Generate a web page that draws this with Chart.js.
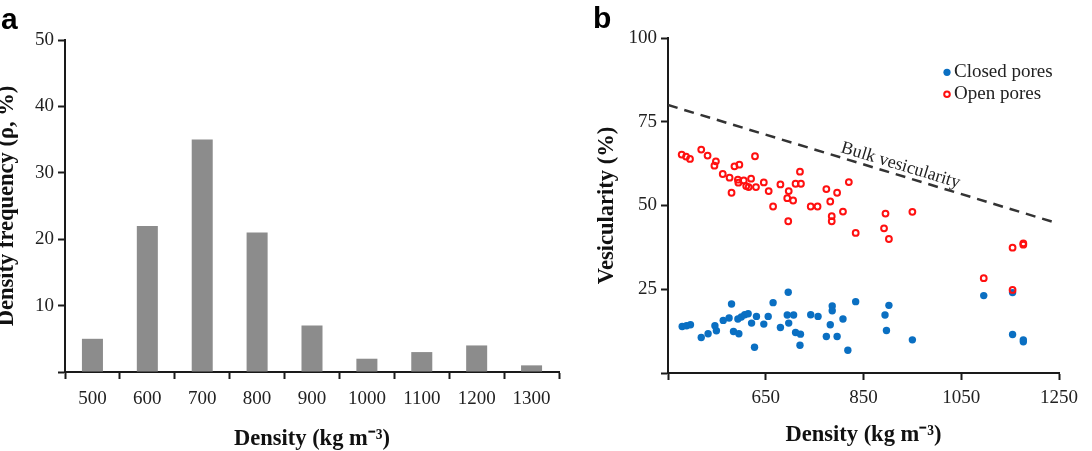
<!DOCTYPE html>
<html><head><meta charset="utf-8">
<script src="https://cdn.jsdelivr.net/npm/chart.js@4.4.1/dist/chart.umd.min.js"></script>
<style>
html,body{margin:0;padding:0;background:#fff;width:1092px;height:451px;overflow:hidden;position:relative}
.wrap{position:absolute;top:0}
.lbl{position:absolute;font-family:"Liberation Sans",Arial,sans-serif;font-weight:bold;font-size:30px;line-height:1;color:#000}
</style></head><body>
<div class="wrap" style="left:0;width:575px;height:451px"><canvas id="ca" width="575" height="451"></canvas></div>
<div class="wrap" style="left:580px;width:512px;height:451px"><canvas id="cb" width="512" height="451"></canvas></div>
<div class="lbl" style="left:1px;top:4px">a</div>
<div class="lbl" style="left:593px;top:3px">b</div>
<script>
// ---------- Panel a data ----------
const densityBins = ['500','600','700','800','900','1000','1100','1200','1300'];
const densityFreq = [5, 22, 35, 21, 7, 2, 3, 4, 1];
const freqTicks = [0, 10, 20, 30, 40, 50];

// ---------- Panel b data ----------
const closedDensity = [479,488,496,518,532,546,549,563,575,580,584,595,593,600,607,614,621,627,631,646,655,665,680,696,694,707,697,711,721,720,742,757,774,782,786,786,796,808,818,834,894,897,902,950,1096,1155,1155,1177,1177];
const closedVes     = [13.9,14.1,14.4,10.6,11.7,14.1,12.6,15.7,16.4,20.6,12.4,11.7,16.1,16.7,17.4,17.7,14.9,7.7,16.9,14.6,16.9,21.0,13.6,24.1,17.3,17.3,14.9,12.1,11.6,8.3,17.4,16.9,10.9,14.4,20.0,18.6,10.9,16.1,6.8,21.3,17.3,12.7,20.2,9.9,23.1,24.0,11.5,9.3,9.9];
const openDensity = [478,487,495,518,531,548,545,562,576,580,586,596,593,594,605,610,615,620,628,630,646,656,665,680,697,694,706,696,711,720,722,742,756,774,782,785,785,796,808,820,834,895,892,902,950,1096,1155,1177,1177,1155];
const openVes     = [65.2,64.6,63.9,66.7,64.9,63.2,61.9,59.4,58.3,53.8,61.7,62.2,57.7,56.8,57.5,55.8,55.5,58.0,64.7,55.5,56.9,54.3,49.7,56.3,54.3,52.2,51.5,45.3,56.5,60.1,56.5,49.7,49.7,54.9,51.2,46.8,45.3,53.8,48.2,57.0,41.8,47.6,43.2,40.0,48.1,28.3,37.4,38.7,38.3,24.8];
const bulkDensity = [450, 1240];
const bulkVes = [80, 45];
const densityTicksB = [450, 650, 850, 1050, 1250];
const vesTicks = [0, 25, 50, 75, 100];
const seriesNames = ['Closed pores', 'Open pores'];
const bulkLabel = 'Bulk vesicularity';

const SERIF = '"Liberation Serif","Times New Roman",serif';
const AX = '#1a1a1a';
const BLUE = '#0a6fc2';
const RED = '#ff1010';
const TITLE_FONT = {family: SERIF, size: 22.5, weight: 'bold'};

function axisCommon(tickPad) {
  return {
    border: {display: true, color: AX, width: 2},
    grid: {display: true, drawOnChartArea: false, drawTicks: true, tickLength: 7, tickWidth: 2, tickColor: AX},
    ticks: {color: '#222', font: {family: SERIF, size: 19}, padding: tickPad, autoSkip: false, maxRotation: 0}
  };
}

// ---------- Chart a ----------
const xa = axisCommon(8.4);
xa.title = {display: true, text: 'Density (kg m⁻³)', color: '#111', font: TITLE_FONT, padding: {top: 0, bottom: -1.5}};
xa.afterFit = s => { s.height = 79; };
xa.grid.offset = true;
const ya = axisCommon(4);
Object.assign(ya, {min: 0, max: 50});
ya.afterBuildTicks = s => { s.ticks = freqTicks.map(v => ({value: v})); };
ya.ticks.callback = v => v === 0 ? '' : v;
ya.title = {display: true, text: 'Density frequency (ρ, %)', color: '#111', font: TITLE_FONT, padding: {top: -6.5, bottom: 0}};
ya.afterFit = s => { s.width = 65; };

new Chart(document.getElementById('ca'), {
  type: 'bar',
  data: {labels: densityBins, datasets: [{data: densityFreq, backgroundColor: '#8c8c8c', borderWidth: 0, barPercentage: 0.383, categoryPercentage: 1}]},
  options: {
    responsive: false, animation: false,
    layout: {padding: {top: 40, right: 16, bottom: 0, left: 0}},
    plugins: {legend: {display: false}, tooltip: {enabled: false}},
    scales: {x: xa, y: ya}
  }
});

// ---------- Chart b ----------
const xb = axisCommon(7);
Object.assign(xb, {type: 'linear', min: 450, max: 1250});
xb.afterBuildTicks = s => { s.ticks = densityTicksB.map(v => ({value: v})); };
xb.ticks.callback = v => v === 450 ? '' : v;
xb.title = {display: true, text: 'Density (kg m⁻³)', color: '#111', font: TITLE_FONT, padding: {top: 0, bottom: 2.5}};
xb.afterFit = s => { s.height = 78; };
const yb = axisCommon(4);
Object.assign(yb, {min: 0, max: 100});
yb.afterBuildTicks = s => { s.ticks = vesTicks.map(v => ({value: v})); };
yb.ticks.callback = v => v === 0 ? '' : v;
yb.title = {display: true, text: 'Vesicularity (%)', color: '#111', font: TITLE_FONT, padding: {top: 13.5, bottom: 0}};
yb.afterFit = s => { s.width = 88; };

const overlayB = {
  id: 'overlayB',
  afterDatasetsDraw(chart) {
    const {ctx, chartArea, scales: {x, y}} = chart;
    const x1 = x.getPixelForValue(bulkDensity[0]), y1 = y.getPixelForValue(bulkVes[0]);
    const x2 = x.getPixelForValue(bulkDensity[1]), y2 = y.getPixelForValue(bulkVes[1]);
    const ang = Math.atan2(y2 - y1, x2 - x1);
    const dv = 920;
    const vv = bulkVes[0] + (dv - bulkDensity[0]) * (bulkVes[1] - bulkVes[0]) / (bulkDensity[1] - bulkDensity[0]);
    ctx.save();
    ctx.translate(x.getPixelForValue(dv), y.getPixelForValue(vv));
    ctx.rotate(ang);
    ctx.font = '18px ' + SERIF;
    ctx.fillStyle = '#222';
    ctx.textAlign = 'center';
    ctx.textBaseline = 'alphabetic';
    ctx.fillText(bulkLabel, 0, -5);
    ctx.restore();
    // legend
    const lx = chartArea.right - 112, ly = chartArea.top + 34.3;
    ctx.save();
    ctx.fillStyle = BLUE;
    ctx.beginPath(); ctx.arc(lx, ly, 3.6, 0, Math.PI * 2); ctx.fill();
    ctx.strokeStyle = RED; ctx.lineWidth = 2;
    ctx.beginPath(); ctx.arc(lx, ly + 22, 2.8, 0, Math.PI * 2); ctx.stroke();
    ctx.fillStyle = '#222';
    ctx.font = '19px ' + SERIF;
    ctx.textAlign = 'left'; ctx.textBaseline = 'middle';
    ctx.fillText(seriesNames[0], lx + 7, ly);
    ctx.fillText(seriesNames[1], lx + 7, ly + 22);
    ctx.restore();
  }
};

new Chart(document.getElementById('cb'), {
  type: 'scatter',
  data: {datasets: [
    {label: seriesNames[1], order: 0, data: openDensity.map((d, i) => ({x: d, y: openVes[i]})), pointRadius: 2.9, pointBorderWidth: 2, pointBorderColor: RED, pointBackgroundColor: 'rgba(255,255,255,0)'},
    {label: seriesNames[0], order: 1, data: closedDensity.map((d, i) => ({x: d, y: closedVes[i]})), pointRadius: 3.7, pointBorderWidth: 0, pointBackgroundColor: BLUE},
    {label: bulkLabel, order: 2, type: 'line', data: bulkDensity.map((d, i) => ({x: d, y: bulkVes[i]})), borderColor: '#333', borderWidth: 2.5, borderDash: [10, 7], pointRadius: 0, fill: false}
  ]},
  options: {
    responsive: false, animation: false,
    layout: {padding: {top: 38, right: 33, bottom: 0, left: 0}},
    plugins: {legend: {display: false}, tooltip: {enabled: false}},
    scales: {x: xb, y: yb}
  },
  plugins: [overlayB]
});
</script>
</body></html>
